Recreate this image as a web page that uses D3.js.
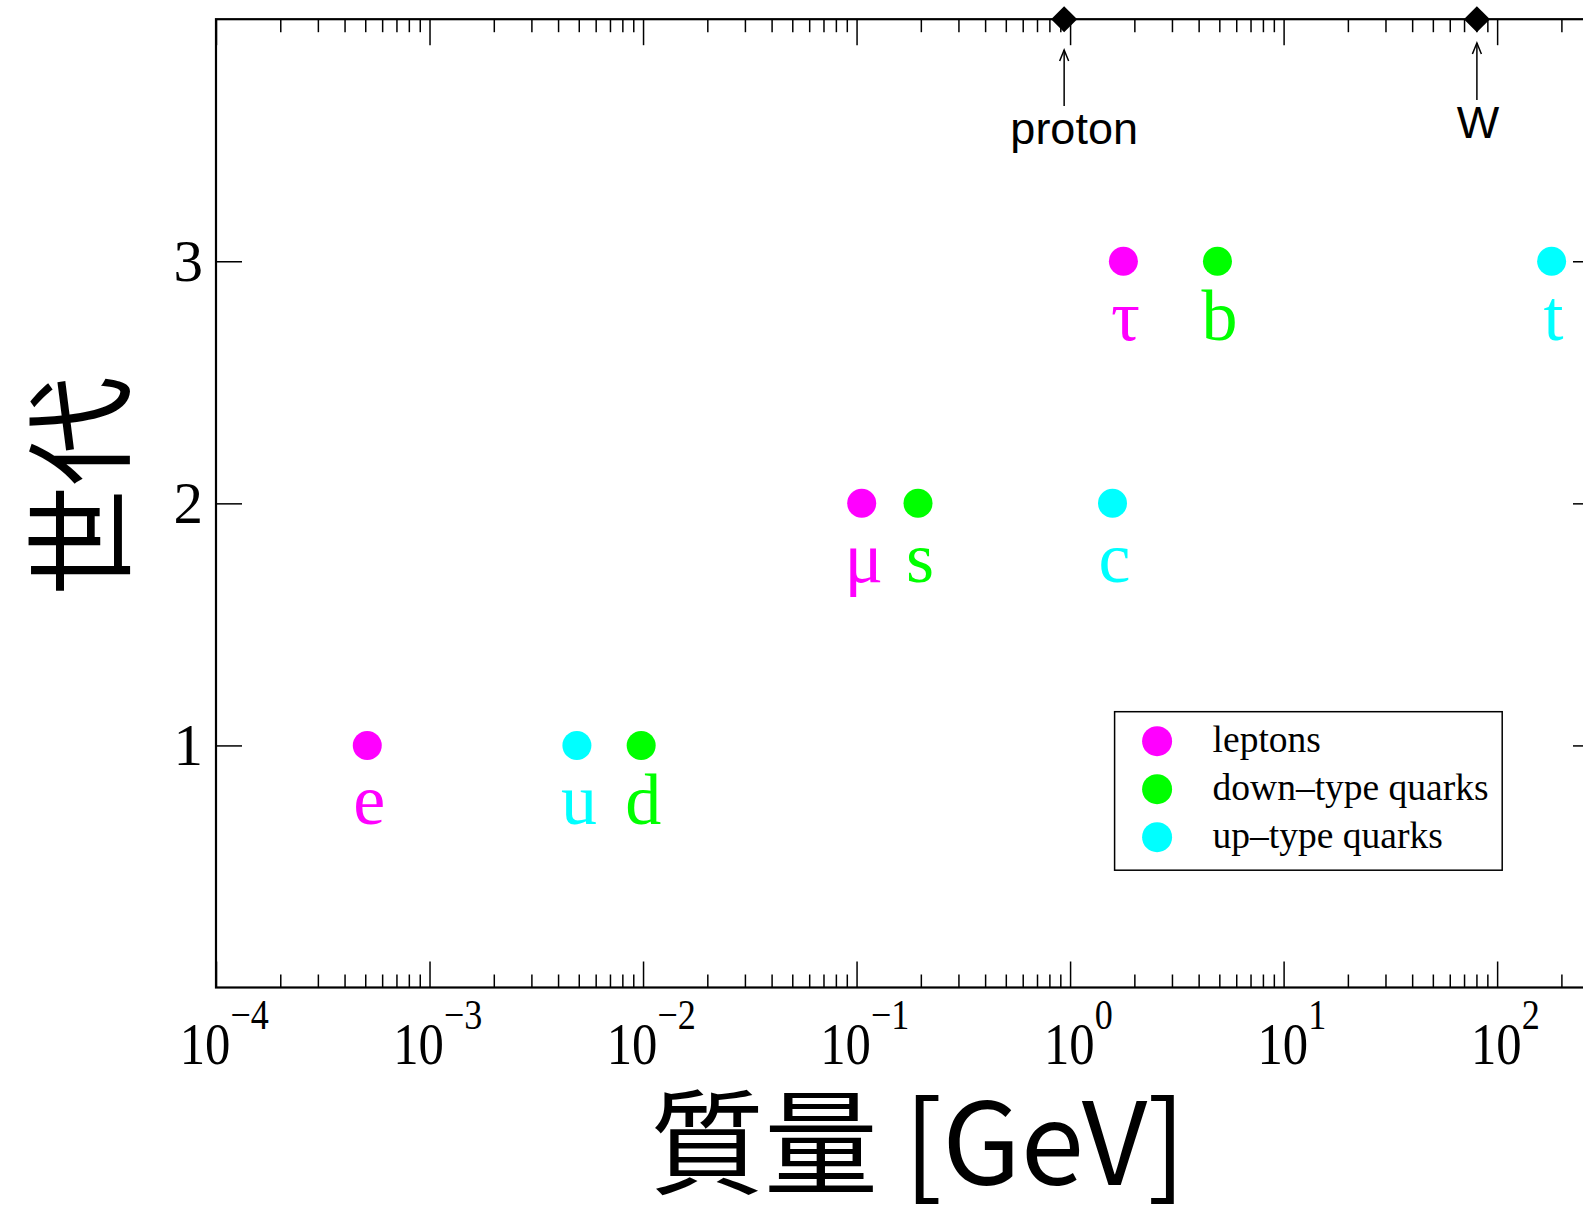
<!DOCTYPE html>
<html>
<head>
<meta charset="utf-8">
<script src="https://cdn.jsdelivr.net/npm/d3@7"></script>
<style>
  html, body { margin: 0; padding: 0; background: #fff; overflow: hidden; }
  svg { display: block; }
</style>
</head>
<body>
<div id="chart"></div>
<script>
// fermion masses (GeV)
const categories = ['leptons', 'down–type quarks', 'up–type quarks'];
const particleNames = ['e', 'μ', 'τ', 'd', 's', 'b', 'u', 'c', 't'];
const particleMasses = [0.000511, 0.1057, 1.777, 0.0098, 0.194, 4.9, 0.0049, 1.58, 180];
const particleGenerations = [1, 2, 3, 1, 2, 3, 1, 2, 3];
const particleCategory = [0, 0, 0, 1, 1, 1, 2, 2, 2];

// reference masses marked on the top axis
const referenceNames = ['proton', 'W'];
const referenceMasses = [0.938, 80.4];

const xDomain = [1e-4, 300];
const yDomain = [0, 4];
const xMajorTicks = [1e-4, 1e-3, 1e-2, 1e-1, 1, 10, 100];
const yTicks = [1, 2, 3];

const colors = ['#ff00ff', '#00ff00', '#00ffff'];
const serif = '"Liberation Serif", "Times New Roman", serif';
const cjk = '"Noto Sans CJK JP", "Noto Sans", sans-serif';

const width = 1620, height = 1207;
const plotLeft = 216, plotRight = 1599, plotTop = 19.2, plotBottom = 987.5;

const x = d3.scaleLog().domain(xDomain).range([plotLeft, plotRight]);
const y = d3.scaleLinear().domain(yDomain).range([plotBottom, plotTop]);

// minor ticks 2..9 within each decade
const xMinorTicks = [];
xMajorTicks.forEach((m) => {
  for (let k = 2; k <= 9; k++) if (k * m <= xDomain[1]) xMinorTicks.push(k * m);
});

const svg = d3.select('#chart').append('svg')
  .attr('width', width).attr('height', height);

const styleAxis = (g) => {
  g.select('.domain').remove();
  g.selectAll('.tick line').attr('stroke', '#000').attr('stroke-width', 1.5);
};

// bottom axis
svg.append('g').attr('transform', `translate(0,${plotBottom})`)
  .call(d3.axisBottom(x).tickValues(xMinorTicks).tickSizeInner(-13).tickSizeOuter(0).tickFormat(''))
  .call(styleAxis);
svg.append('g').attr('transform', `translate(0,${plotBottom})`)
  .call(d3.axisBottom(x).tickValues(xMajorTicks).tickSizeInner(-26).tickSizeOuter(0)
    .tickFormat((d) => String(Math.round(Math.log10(d)))))
  .call(styleAxis)
  .call((g) => g.selectAll('.tick text').each(function (d) {
    const exp = String(Math.round(Math.log10(d))).replace('-', '−');
    const t = d3.select(this);
    t.text(null).attr('x', 9).attr('y', 77).attr('dy', null).attr('fill', '#000')
      .attr('font-family', serif).attr('font-size', 59)
      .attr('transform', 'scale(0.86,1)');
    t.append('tspan').text('10');
    t.append('tspan').attr('dy', -35).attr('font-size', 42).text(exp);
  }));

// top axis
svg.append('g').attr('transform', `translate(0,${plotTop})`)
  .call(d3.axisTop(x).tickValues(xMinorTicks).tickSizeInner(-13).tickSizeOuter(0).tickFormat(''))
  .call(styleAxis);
svg.append('g').attr('transform', `translate(0,${plotTop})`)
  .call(d3.axisTop(x).tickValues(xMajorTicks).tickSizeInner(-26).tickSizeOuter(0).tickFormat(''))
  .call(styleAxis);

// left axis
svg.append('g').attr('transform', `translate(${plotLeft},0)`)
  .call(d3.axisLeft(y).tickValues(yTicks).tickSizeInner(-26).tickSizeOuter(0).tickPadding(13)
    .tickFormat(d3.format('d')))
  .call(styleAxis)
  .call((g) => g.selectAll('.tick text')
    .attr('font-family', serif).attr('font-size', 59).attr('fill', '#000').attr('dy', '0.33em'));

// right axis
svg.append('g').attr('transform', `translate(${plotRight},0)`)
  .call(d3.axisRight(y).tickValues(yTicks).tickSizeInner(-26).tickSizeOuter(0).tickFormat(''))
  .call(styleAxis);

// frame
svg.append('rect')
  .attr('x', plotLeft).attr('y', plotTop).attr('width', plotRight - plotLeft).attr('height', plotBottom - plotTop)
  .attr('fill', 'none').attr('stroke', '#000').attr('stroke-width', 2.2);

// particles
const particles = particleNames.map((name, i) => ({
  name, mass: particleMasses[i], gen: particleGenerations[i], cat: particleCategory[i],
}));

svg.append('g').selectAll('circle').data(particles).join('circle')
  .attr('cx', (d) => x(d.mass)).attr('cy', (d) => y(d.gen)).attr('r', 14.5)
  .attr('fill', (d) => colors[d.cat]);

svg.append('g').selectAll('text').data(particles).join('text')
  .attr('x', (d) => x(d.mass) + 2).attr('y', (d) => y(d.gen) + 79)
  .attr('text-anchor', 'middle').attr('font-family', serif).attr('font-size', 72)
  .attr('fill', (d) => colors[d.cat]).text((d) => d.name);

// reference markers on the top axis
const annotationLayout = { proton: { dx: 10, tip: 50, base: 106, label: 144 }, W: { dx: 1, tip: 43, base: 100, label: 138 } };
const refs = referenceNames.map((name, i) => ({ name, mass: referenceMasses[i], ...annotationLayout[name] }));

const ref = svg.append('g').selectAll('g').data(refs).join('g')
  .attr('transform', (d) => `translate(${x(d.mass)},0)`);
ref.append('path')
  .attr('d', d3.symbol().type(d3.symbolSquare).size(340))
  .attr('transform', `translate(0,${plotTop}) rotate(45)`).attr('fill', '#000');
ref.append('line')
  .attr('y1', (d) => d.base).attr('y2', (d) => d.tip)
  .attr('stroke', '#000').attr('stroke-width', 1.5);
ref.append('path')
  .attr('d', (d) => `M-4.5,${d.tip + 11}L0,${d.tip}L4.5,${d.tip + 11}`)
  .attr('fill', 'none').attr('stroke', '#000').attr('stroke-width', 1.5);
ref.append('text')
  .attr('x', (d) => d.dx).attr('y', (d) => d.label)
  .attr('text-anchor', 'middle').attr('font-family', '"Liberation Sans", Arial, sans-serif')
  .attr('font-size', 45).attr('fill', '#000').text((d) => d.name);

// legend
const legend = svg.append('g').attr('transform', 'translate(1114.6,711.7)');
legend.append('rect').attr('width', 387.6).attr('height', 158.5)
  .attr('fill', '#fff').attr('stroke', '#000').attr('stroke-width', 1.5);
const item = legend.selectAll('g').data(categories).join('g')
  .attr('transform', (d, i) => `translate(0,${29.5 + i * 48})`);
item.append('circle').attr('cx', 42.5).attr('r', 15).attr('fill', (d, i) => colors[i]);
item.append('text').attr('x', 98).attr('y', 11)
  .attr('font-family', serif).attr('font-size', 37.5).attr('fill', '#000').text((d) => d);

// axis titles
svg.append('text')
  .attr('x', 918).attr('y', 1185).attr('text-anchor', 'middle')
  .attr('font-family', cjk).attr('font-size', 114).attr('fill', '#000')
  .text('質量 [GeV]');
svg.append('text')
  .attr('transform', 'translate(73,486) rotate(-90)')
  .attr('text-anchor', 'middle').attr('dominant-baseline', 'central')
  .attr('font-family', cjk).attr('font-size', 110).attr('fill', '#000')
  .text('世代');
</script>
</body>
</html>
